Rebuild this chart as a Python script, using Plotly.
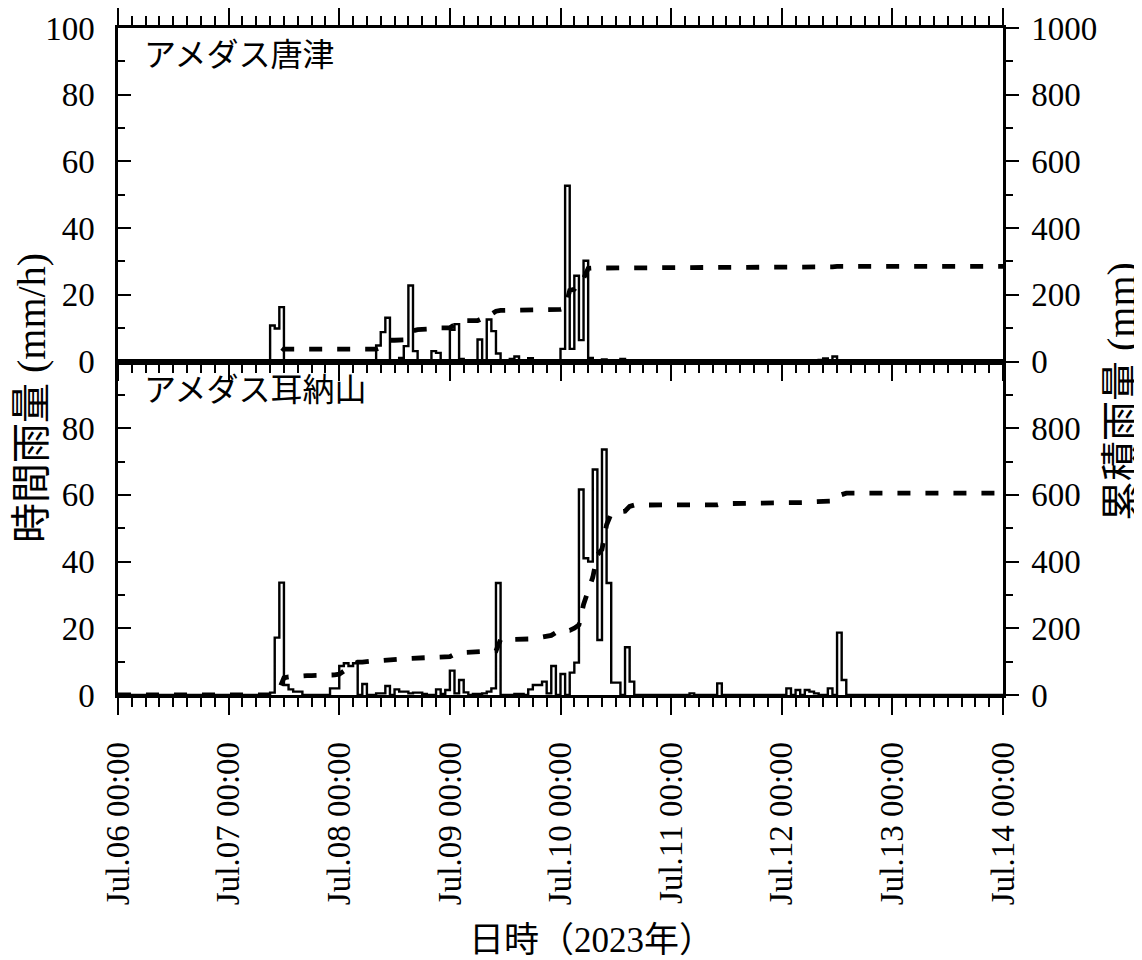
import numpy as np
import pandas as pd
import plotly.graph_objects as go

# ---------------- data ----------------
# hours after 2023-07-06 00:00 (start of each 1-hour bin) and hourly rainfall (mm/h)
start = pd.Timestamp("2023-07-06 00:00")
n_hours = 192

karatsu_hour = [33, 34, 35, 56, 57, 58, 61, 62, 63, 64, 68, 69, 72, 73, 74, 78, 80, 81, 82,
                85, 86, 89, 96, 97, 98, 99, 100, 101, 102, 105, 109, 110, 152, 153, 154, 155]
karatsu_rain = [10.8, 9.9, 16.3, 4.8, 8.8, 13.1, 1.1, 4.6, 22.8, 3.1, 3.1, 2.6, 9.5, 11.2, 0.8,
                6.6, 12.6, 9.1, 2.4, 0.8, 1.5, 1.0, 3.8, 52.7, 3.8, 25.7, 6.4, 30.2, 1.1, 0.6,
                0.8, 0.4, 0.5, 0.9, 0.3, 1.5]

minou_hour = [33, 34, 35, 36, 37, 38, 39, 46, 47, 48, 49, 50, 51, 53, 56, 57, 58, 60, 61, 62,
              63, 64, 65, 66, 69, 70, 71, 72, 73, 74, 75, 77, 78, 79, 80, 81, 82, 86, 87, 89,
              90, 91, 92, 93, 94, 96, 98, 99, 100, 101, 102, 103, 104, 105, 106, 107, 108,
              110, 111, 124, 130, 145, 147, 149, 150, 151, 154, 156, 157]
minou_rain = [0.7, 17.2, 33.7, 3.0, 1.7, 1.0, 1.0, 2.0, 2.0, 8.7, 9.5, 8.7, 9.5, 3.3, 0.5, 0.5,
              2.7, 1.7, 1.0, 1.0, 0.5, 0.7, 0.7, 0.3, 1.7, 0.3, 1.5, 7.3, 0.5, 4.5, 0.8, 0.3,
              0.3, 0.5, 1.0, 2.0, 33.6, 0.3, 0.3, 1.7, 3.0, 3.0, 4.0, 0.5, 8.7, 6.3, 6.7, 9.7,
              61.6, 41.0, 40.0, 67.6, 16.5, 73.6, 33.6, 3.7, 3.7, 14.3, 4.0, 0.5, 3.5, 2.0,
              1.5, 1.5, 1.0, 0.5, 2.0, 18.7, 4.5]

station_names = ["アメダス唐津", "アメダス耳納山"]
day_ticks = pd.date_range("2023-07-06", "2023-07-14", freq="D")
day_labels = [d.strftime("Jul.%d %H:%M") for d in day_ticks]


def hourly(hours, values):
    arr = np.zeros(n_hours)
    arr[np.array(hours)] = values
    return arr


times = start + pd.to_timedelta(np.arange(n_hours), unit="h")
end = start + pd.Timedelta(hours=n_hours)

FONT = "Liberation Serif, Times New Roman, Noto Sans CJK JP, serif"
TICKFONT = dict(family=FONT, size=33, color="black")

fig = go.Figure()

panels = [  # (values, x-axis, left y-axis, right y-axis)
    (hourly(karatsu_hour, karatsu_rain), "x2", "y3", "y4"),
    (hourly(minou_hour, minou_rain), "x", "y", "y2"),
]
for vals, xa, yl, yr in panels:
    step_x = list(times) + [end]
    step_y = list(vals) + [vals[-1]]
    fig.add_trace(go.Scatter(x=step_x, y=step_y, mode="lines", line_shape="hv",
                             line=dict(color="black", width=2.4), xaxis=xa, yaxis=yl,
                             showlegend=False, hoverinfo="skip"))
    cum = np.concatenate([[0.0], np.cumsum(vals)])
    cum_x = [start] + list(times + pd.Timedelta(hours=1))
    fig.add_trace(go.Scatter(x=cum_x, y=cum, mode="lines",
                             line=dict(color="black", width=4.8, dash="13px,15px"),
                             xaxis=xa, yaxis=yr, showlegend=False, hoverinfo="skip"))

xcommon = dict(type="date", range=[start, end], tickmode="array", tickvals=day_ticks,
               ticks="outside", ticklen=17, tickwidth=2, tickcolor="black",
               minor=dict(ticks="outside", ticklen=9, tickwidth=2, tickcolor="black",
                          dtick=3 * 3600 * 1000, tick0=start),
               showline=True, linewidth=2.5, linecolor="black", showgrid=False,
               zeroline=False, automargin=False)

left_common = dict(range=[0, 100], ticks="inside", ticklen=13, tickwidth=2, tickcolor="black",
                   showline=True, linewidth=2.5, linecolor="black", showgrid=False,
                   zeroline=False, tickfont=TICKFONT, ticklabelstandoff=14, automargin=False,
                   minor=dict(ticks="inside", ticklen=7, tickwidth=2, tickcolor="black",
                              tickmode="array", tickvals=[10, 30, 50, 70, 90]))
right_common = dict(range=[0, 1000], side="right", ticks="outside", ticklen=13, tickwidth=2,
                    tickcolor="black", showline=True, linewidth=2.5, linecolor="black",
                    showgrid=False, zeroline=False, tickfont=TICKFONT, ticklabelstandoff=6,
                    automargin=False,
                    minor=dict(ticks="outside", ticklen=7, tickwidth=2, tickcolor="black",
                               tickmode="array", tickvals=[100, 300, 500, 700, 900]))

# screen coordinates of the plot area in the final picture
PL, PR, PT, PB = 118, 1003, 28, 695
OFF = 8  # page body offset
fig.update_layout(
    width=1142, height=960,
    margin=dict(l=PL - OFF, r=1142 - (PR - OFF), t=PT - OFF, b=960 - (PB - OFF),
                autoexpand=False),
    plot_bgcolor="white", paper_bgcolor="white",
    font=dict(family=FONT, color="black"),
    xaxis=dict(xcommon, anchor="y", domain=[0, 1], ticktext=day_labels, tickangle=-90,
               tickfont=TICKFONT, mirror=True, ticklabelstandoff=14),
    xaxis2=dict(xcommon, anchor="y3", domain=[0, 1], matches="x", showticklabels=False,
                mirror="ticks"),
    yaxis=dict(left_common, domain=[0, 0.5], anchor="x", tickmode="array",
               tickvals=[0, 20, 40, 60, 80, 100], ticktext=["0", "20", "40", "60", "80", ""]),
    yaxis2=dict(right_common, overlaying="y", anchor="x", tickmode="array",
                tickvals=[0, 200, 400, 600, 800, 1000],
                ticktext=["0", "200", "400", "600", "800", ""]),
    yaxis3=dict(left_common, domain=[0.5, 1], anchor="x2", tickmode="array",
                tickvals=[0, 20, 40, 60, 80, 100]),
    yaxis4=dict(right_common, overlaying="y3", anchor="x2", tickmode="array",
                tickvals=[0, 200, 400, 600, 800, 1000]),
)


def px(x):
    return (x - PL) / (PR - PL)


def py(y):
    return (PB - y) / (PB - PT)


annos = [
    dict(text=station_names[0], x=px(142), y=py(55), xanchor="left", yanchor="middle",
         font=dict(size=32)),
    dict(text=station_names[1], x=px(142), y=py(390), xanchor="left", yanchor="middle",
         font=dict(size=32)),
    dict(text="日時（2023年）", x=px(591), y=py(940), xanchor="center", yanchor="middle",
         font=dict(size=35)),
    dict(text="時間雨量 (mm/h)", x=px(31), y=py(398), xanchor="center", yanchor="middle",
         textangle=-90, font=dict(size=40)),
    dict(text="累積雨量 (mm)", x=px(1121), y=py(392), xanchor="center", yanchor="middle",
         textangle=-90, font=dict(size=40)),
]
for a in annos:
    fig.add_annotation(xref="paper", yref="paper", showarrow=False, **a)

fig.write_html("out.html")
